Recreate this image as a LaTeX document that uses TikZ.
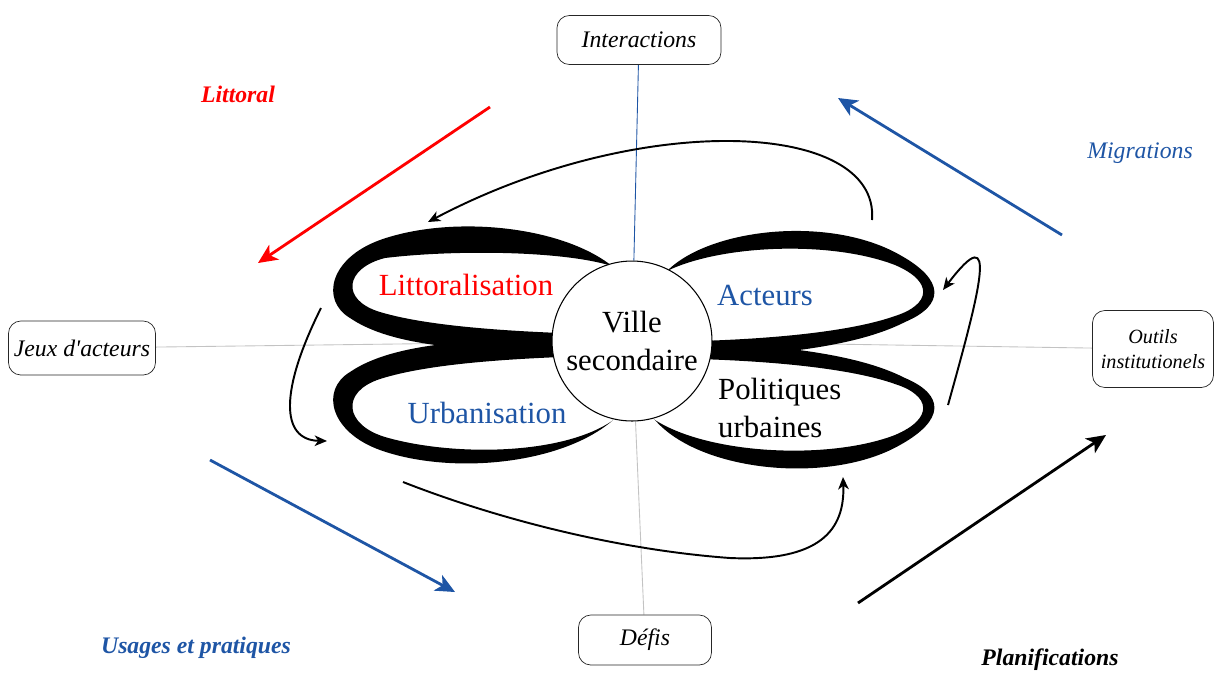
\documentclass[tikz,border=0pt]{standalone}
\usepackage{fontspec}
\setmainfont{Liberation Serif}
\usetikzlibrary{arrows.meta}

\definecolor{bleu}{RGB}{30,85,165}
\definecolor{gris}{RGB}{195,195,195}

\pgfdeclarelayer{back}
\pgfsetlayers{back,main}

\tikzset{
  box/.style={draw=black!85, rounded corners=7pt, align=center, inner sep=2pt,
    font=\fontsize{13.5}{16}\selectfont\itshape},
  petal/.style={fill=black, even odd rule},
  theme/.style={font=\fontsize{17.5}{22}\selectfont},
  corner/.style={font=\fontsize{13.5}{16}\selectfont\bfseries\itshape},
  flow/.style={line width=1.6pt, -{Stealth[length=11pt,width=10pt,inset=3pt]}},
  loop/.style={line width=1.1pt, -{Stealth[length=7pt,width=6pt,inset=2pt]}},
  axis/.style={gris, line width=0.5pt},
}

\begin{document}
\begin{tikzpicture}[x=0.02cm, y=-0.02cm]
    \useasboundingbox (0,0) rectangle (1216,674);

    % Petals
    \fill[petal] (612,266) .. controls (560,225) and (450,215) .. (380,240) .. controls (330,258) and (320,300) .. (350,318) .. controls (400,352) and (500,352) .. (632,352) -- (632,300) -- cycle
      (612,266) .. controls (560,250) and (450,250) .. (385,258) .. controls (345,268) and (340,300) .. (380,312) .. controls (430,327) and (520,333) .. (632,335) -- (632,300) -- cycle;
    \fill[petal] (612,421) .. controls (560,465) and (450,475) .. (380,450) .. controls (330,432) and (320,390) .. (350,372) .. controls (400,338) and (500,338) .. (632,338) -- (632,390) -- cycle
      (612,421) .. controls (560,456) and (450,456) .. (385,437) .. controls (345,425) and (340,392) .. (380,379) .. controls (430,363) and (520,357) .. (632,355) -- (632,390) -- cycle;
    \fill[petal] (667,271) .. controls (710,228) and (830,215) .. (900,255) .. controls (945,280) and (945,305) .. (905,322) .. controls (860,345) and (780,358) .. (632,360) -- (632,300) -- cycle
      (667,271) .. controls (720,245) and (830,240) .. (895,265) .. controls (935,282) and (930,305) .. (895,316) .. controls (850,332) and (760,342) .. (632,342) -- (632,300) -- cycle;
    \fill[petal] (655,420) .. controls (700,472) and (830,485) .. (900,445) .. controls (945,420) and (945,395) .. (905,378) .. controls (860,355) and (780,342) .. (632,340) -- (632,400) -- cycle
      (655,420) .. controls (710,455) and (830,460) .. (895,435) .. controls (935,418) and (930,395) .. (895,384) .. controls (850,368) and (760,358) .. (632,358) -- (632,400) -- cycle;

    % Nodes
    \node (ville) [circle, draw, fill=white, minimum size=3.2cm, inner sep=0pt, line width=0.6pt, theme, align=center] at (632,341) {Ville\\secondaire};
    \node (littoralisation) [theme, text=red] at (466,285) {Littoralisation};
    \node (urbanisation) [theme, text=bleu] at (487,413) {Urbanisation};
    \node (acteurs) [theme, text=bleu] at (765,295) {Acteurs};
    \node (politiques) [theme, align=left, anchor=west] at (712,408) {Politiques\\urbaines};

    \node (interactions) [box, minimum width=3.28cm, minimum height=0.98cm] at (639,40) {Interactions};
    \node (jeux) [box, minimum width=2.94cm, minimum height=1.08cm] at (82,348) {Jeux d\textquotesingle acteurs};
    \node (outils) [box, minimum width=2.42cm, minimum height=1.54cm, font=\fontsize{11.5}{14}\selectfont\itshape] at (1153,349) {Outils\\institutionels};
    \node (defis) [box, minimum width=2.66cm, minimum height=1.0cm] at (645,640) {Défis};

    \node (littoral) [corner, text=red] at (238,94) {Littoral};
    \node (migrations) [font=\fontsize{13.5}{16}\selectfont\itshape, text=bleu] at (1140,153) {Migrations};
    \node (usages) [corner, text=bleu] at (196,648) {Usages et pratiques};
    \node (planif) [corner] at (1050,660) {Planifications};

    % Axes
    \begin{pgfonlayer}{back}
    \draw[bleu, line width=0.5pt] (interactions) -- (ville);
    \draw[axis] (jeux) -- (ville);
    \draw[axis] (outils) -- (ville);
    \draw[axis] (defis) -- (ville);
    \end{pgfonlayer}

    % Arrows
    \coordinate (littoral-a) at (490,107);
    \coordinate (littoral-b) at (258,263);
    \coordinate (migrations-a) at (1062,235);
    \coordinate (migrations-b) at (838,98);
    \coordinate (usages-a) at (210,460);
    \coordinate (usages-b) at (455,592);
    \coordinate (planif-a) at (858,603);
    \coordinate (planif-b) at (1106,435);
    \draw[flow, red] (littoral-a) -- (littoral-b);
    \draw[flow, bleu] (migrations-a) -- (migrations-b);
    \draw[flow, bleu] (usages-a) -- (usages-b);
    \draw[flow] (planif-a) -- (planif-b);

    % Loops between petals
    \coordinate (acteurs-top) at (872,220);
    \coordinate (littoralisation-top) at (428,222);
    \coordinate (politiques-right) at (948,405);
    \coordinate (acteurs-right) at (943,290);
    \coordinate (littoralisation-left) at (321,308);
    \coordinate (urbanisation-left) at (327,441);
    \coordinate (urbanisation-bottom) at (403,482);
    \coordinate (politiques-bottom) at (843,477);
    \draw[loop] (acteurs-top) .. controls (880,120) and (640,110) .. (littoralisation-top);
    \draw[loop] (politiques-right) .. controls (980,290) and (1000,215) .. (acteurs-right);
    \draw[loop] (littoralisation-left) .. controls (280,390) and (280,440) .. (urbanisation-left);
    \draw[loop] (urbanisation-bottom) .. controls (500,520) and (620,550) .. (730,558) .. controls (820,562) and (845,530) .. (politiques-bottom);
\end{tikzpicture}
\end{document}
